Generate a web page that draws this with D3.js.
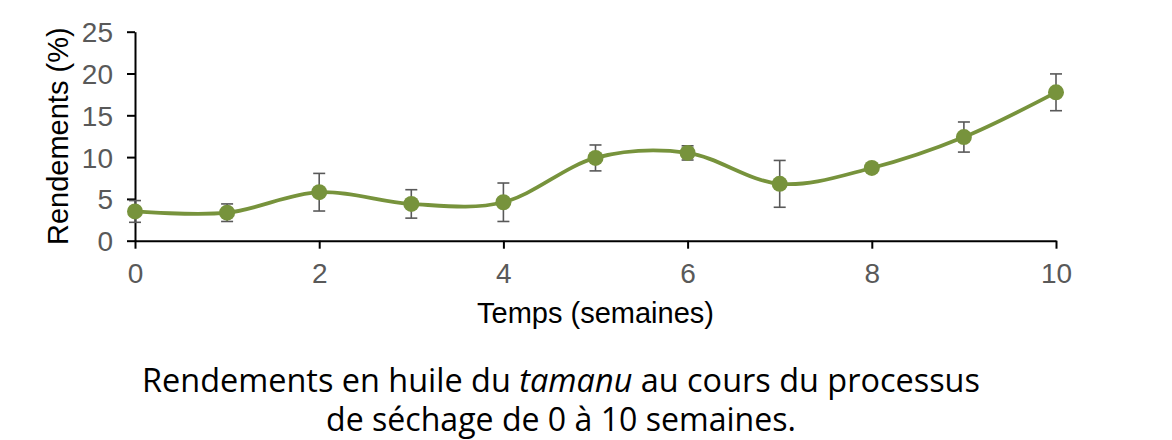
<!DOCTYPE html>
<html>
<head>
<meta charset="utf-8">
<script src="https://cdn.jsdelivr.net/npm/d3@7"></script>
<style>
  body { margin: 0; background: #fff; }
  svg { display: block; }
</style>
</head>
<body>
<div id="chart"></div>
<script>
// data
const weeks = [0, 1, 2, 3, 4, 5, 6, 7, 8, 9, 10];
const yields = [3.5, 3.35, 5.8, 4.4, 4.6, 9.9, 10.5, 6.8, 8.7, 12.4, 17.75];
const errors = [1.3, 1.05, 2.25, 1.7, 2.3, 1.55, 0.85, 2.8, 0.4, 1.8, 2.2];
const xTicks = [0, 2, 4, 6, 8, 10];
const yTicks = [0, 5, 10, 15, 20, 25];
const xTitle = 'Temps (semaines)';
const yTitle = 'Rendements (%)';

const WIDTH = 1172;
const HEIGHT = 440;
const MARGIN_LEFT = 135;
const MARGIN_RIGHT = 116;
const MARGIN_TOP = 31.7;
const PLOT_BOTTOM = 240.7;

const GREEN = '#77933c';
const GREY = '#595959';
const FONT = '"Liberation Sans", Arial, sans-serif';

const points = weeks.map((w, i) => ({ w, v: yields[i], e: errors[i] }));

const $svg = d3.select('#chart').append('svg')
  .attr('width', WIDTH)
  .attr('height', HEIGHT);

// scales
const xScale = d3.scaleLinear().domain([0, 10]).range([MARGIN_LEFT, WIDTH - MARGIN_RIGHT]);
const yScale = d3.scaleLinear().domain([0, 25]).range([PLOT_BOTTOM, MARGIN_TOP]);

// axes
const $xAxis = $svg.append('g')
  .attr('transform', `translate(0,${PLOT_BOTTOM})`)
  .call(d3.axisBottom(xScale).tickValues(xTicks).tickSize(8).tickPadding(14).tickSizeOuter(0));

const $yAxis = $svg.append('g')
  .attr('transform', `translate(${MARGIN_LEFT},0)`)
  .call(d3.axisLeft(yScale).tickValues(yTicks).tickSize(8).tickPadding(14).tickSizeOuter(0));

[$xAxis, $yAxis].forEach($a => {
  $a.select('.domain').attr('stroke', '#000').attr('stroke-width', 2);
  $a.selectAll('.tick line').attr('stroke', '#000').attr('stroke-width', 2);
  $a.selectAll('.tick text')
    .attr('fill', GREY)
    .style('font-family', FONT)
    .style('font-size', '28px');
});
$xAxis.selectAll('.tick text').attr('dy', '0.71em');
$yAxis.selectAll('.tick text').attr('dy', '0.36em');

// axis titles
$svg.append('text')
  .attr('x', (xScale(0) + xScale(10)) / 2)
  .attr('y', 323)
  .attr('text-anchor', 'middle')
  .style('font-family', FONT)
  .style('font-size', '29px')
  .attr('fill', '#000')
  .text(xTitle);

$svg.append('text')
  .attr('transform', `translate(68,${(yScale(0) + yScale(25)) / 2}) rotate(-90)`)
  .attr('text-anchor', 'middle')
  .style('font-family', FONT)
  .style('font-size', '29px')
  .attr('fill', '#000')
  .text(yTitle);

// smoothed series line
const line = d3.line()
  .x(d => xScale(d.w))
  .y(d => yScale(d.v))
  .curve(d3.curveCardinal.tension(0));

$svg.append('path')
  .datum(points)
  .attr('d', line)
  .attr('fill', 'none')
  .attr('stroke', GREEN)
  .attr('stroke-width', 3.8);

// error bars
const $err = $svg.append('g').attr('stroke', GREY).attr('stroke-width', 1.6);
$err.selectAll('line.v').data(points).join('line')
  .attr('class', 'v')
  .attr('x1', d => xScale(d.w)).attr('x2', d => xScale(d.w))
  .attr('y1', d => yScale(d.v + d.e)).attr('y2', d => yScale(d.v - d.e));
$err.selectAll('line.top').data(points).join('line')
  .attr('class', 'top')
  .attr('x1', d => xScale(d.w) - 6).attr('x2', d => xScale(d.w) + 6)
  .attr('y1', d => yScale(d.v + d.e)).attr('y2', d => yScale(d.v + d.e));
$err.selectAll('line.bot').data(points).join('line')
  .attr('class', 'bot')
  .attr('x1', d => xScale(d.w) - 6).attr('x2', d => xScale(d.w) + 6)
  .attr('y1', d => yScale(d.v - d.e)).attr('y2', d => yScale(d.v - d.e));

// markers
$svg.append('g').selectAll('circle').data(points).join('circle')
  .attr('cx', d => xScale(d.w))
  .attr('cy', d => yScale(d.v))
  .attr('r', 8)
  .attr('fill', GREEN);

// caption below the chart, squeezed to the figure's widths
const CAP_FONT = '"Open Sans", "Noto Sans", sans-serif';
function caption(y, width, build) {
  const $t = $svg.append('text')
    .attr('text-anchor', 'middle')
    .style('font-family', CAP_FONT)
    .style('font-size', '33px')
    .attr('fill', '#000');
  build($t);
  const w = $t.node().getBBox().width;
  $t.attr('transform', `translate(561,${y}) scale(${width / w},1)`);
}

caption(392, 838, $t => {
  $t.append('tspan').text('Rendements en huile du ');
  $t.append('tspan').style('font-style', 'italic').text('tamanu');
  $t.append('tspan').text(' au cours du processus');
});
caption(431, 470, $t => {
  $t.append('tspan').text('de séchage de 0 à 10 semaines.');
});
</script>
</body>
</html>
